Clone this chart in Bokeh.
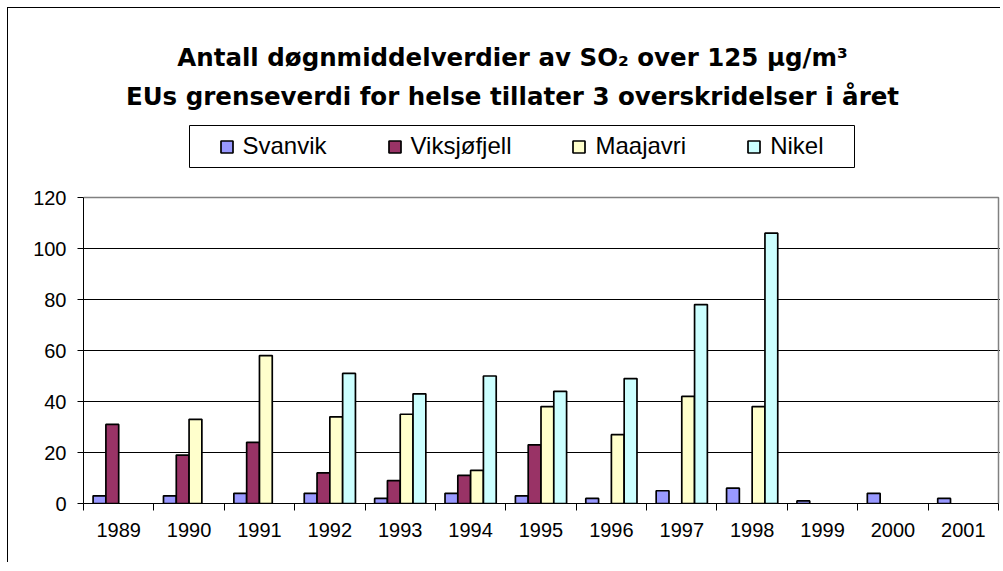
import numpy as np
from bokeh.plotting import figure
from bokeh.models import (Range1d, FixedTicker, ColumnDataSource, Legend,
                          LegendItem, Label, BoxAnnotation)
from bokeh.embed import file_html
from bokeh.resources import INLINE

# ---------------- data ----------------
years = ["1989", "1990", "1991", "1992", "1993", "1994", "1995",
         "1996", "1997", "1998", "1999", "2000", "2001"]
series = ["Svanvik", "Viksjøfjell", "Maajavri", "Nikel"]
svanvik = [3, 3, 4, 4, 2, 4, 3, 2, 5, 6, 1, 4, 2]
viksjofjell = [31, 19, 24, 12, 9, 11, 23, None, None, None, None, None, None]
maajavri = [None, 33, 58, 34, 35, 13, 38, 27, 42, 38, None, None, None]
nikel = [None, None, None, 51, 43, 50, 44, 49, 78, 106, None, None, None]
colors = ["#9999FF", "#993366", "#FFFFCC", "#CCFFFF"]
y_ticks = [0, 20, 40, 60, 80, 100, 120]
grid_ticks = [20, 40, 60, 80, 100]
title_lines = ["Antall døgnmiddelverdier av SO₂ over 125 µg/m³",
               "EUs grenseverdi for helse tillater 3 overskridelser i året"]

# ---------------- layout (canvas pixels) ----------------
n = len(years)
YMAX = 120
W, H = 993, 555
AX_L, AX_R = 75, 990      # x = 0 and x = n
AX_B, AX_T = 495, 189     # y = 0 and y = YMAX
ppx = (AX_R - AX_L) / n
ppy = (AX_B - AX_T) / YMAX


def cx(px):  # canvas px -> data x
    return (px - AX_L) / ppx


def cy(py):  # canvas px -> data y
    return (AX_B - py) / ppy


p = figure(width=W, height=H,
           x_range=Range1d(0, cx(W)), y_range=Range1d(0, cy(0)),
           output_backend="svg", toolbar_location=None,
           min_border_left=AX_L, min_border_right=0,
           min_border_top=0, min_border_bottom=H - AX_B,
           background_fill_color="white", border_fill_color="white",
           outline_line_color=None)
p.title.visible = False
p.margin = (7, 0, 0, 7)
p.styles = {"border-left": "1px solid black", "border-top": "1px solid black"}

# ---------------- bars ----------------
centers = np.arange(n) + 0.5
bw = 1 / 5.5
offsets = (np.arange(len(series)) - 1.5) * bw
renderers = []
for name, vals, col, off in zip(series, [svanvik, viksjofjell, maajavri, nikel],
                                colors, offsets):
    top = np.array([np.nan if v is None else v for v in vals], dtype=float)
    src = ColumnDataSource(dict(x=centers + off, top=top))
    r = p.vbar(x="x", top="top", bottom=0, width=bw, source=src,
               fill_color=col, line_color="black", line_width=1.7)
    renderers.append(r)

# plot-area border (top and right, grey)
p.line(x=[0, n, n], y=[YMAX, YMAX, 0], line_color="#808080", line_width=1.5)

# ---------------- axes ----------------
xa = p.xaxis[0]
xa.bounds = (0, n)
xa.ticker = FixedTicker(ticks=list(centers), minor_ticks=list(range(n + 1)))
xa.major_label_overrides = {float(c): y for c, y in zip(centers, years)}
xa.major_tick_line_color = None
xa.major_tick_out = 7
xa.major_tick_in = 0
xa.minor_tick_out = 7
xa.minor_tick_in = 0
xa.minor_tick_line_color = "black"
xa.axis_line_color = "black"
xa.major_label_standoff = 12
xa.major_label_text_font = "Liberation Sans"
xa.major_label_text_font_size = "20px"
xa.major_label_text_color = "black"

ya = p.yaxis[0]
ya.bounds = (0, YMAX)
ya.ticker = FixedTicker(ticks=y_ticks)
ya.minor_tick_line_color = None
ya.major_tick_out = 6
ya.major_tick_in = 0
ya.major_tick_line_color = "black"
ya.axis_line_color = "black"
ya.major_label_standoff = 11
ya.major_label_text_font = "Liberation Sans"
ya.major_label_text_font_size = "20px"
ya.major_label_text_color = "black"

p.xgrid.visible = False
p.ygrid.ticker = FixedTicker(ticks=grid_ticks)
p.ygrid.bounds = (0, n)
p.ygrid.grid_line_color = "black"
p.ygrid.grid_line_width = 1

# ---------------- title ----------------
for line, base in zip(title_lines, [49, 88]):
    p.add_layout(Label(x=cx(504), y=cy(base), text=line, text_align="center",
                       text_baseline="alphabetic", text_font="DejaVu Sans",
                       text_font_style="bold", text_font_size="24.5px",
                       text_color="black"))

# ---------------- legend ----------------
p.add_layout(BoxAnnotation(left=cx(181), right=cx(846), top=cy(117), bottom=cy(159),
                           fill_color=None, line_color="black", line_alpha=1.0,
                           line_width=1, level="overlay"))
legend = Legend(items=[LegendItem(label=s, renderers=[r]) for s, r in zip(series, renderers)],
                orientation="horizontal", location=(210.5 - AX_L, AX_B - 152),
                border_line_color=None, background_fill_alpha=0, padding=0,
                spacing=60, glyph_width=15, glyph_height=15, label_standoff=9,
                label_text_font="Liberation Sans", label_text_font_size="24px",
                label_text_color="black", margin=0)
p.add_layout(legend)

open("out.html", "w").write(file_html(p, INLINE))
